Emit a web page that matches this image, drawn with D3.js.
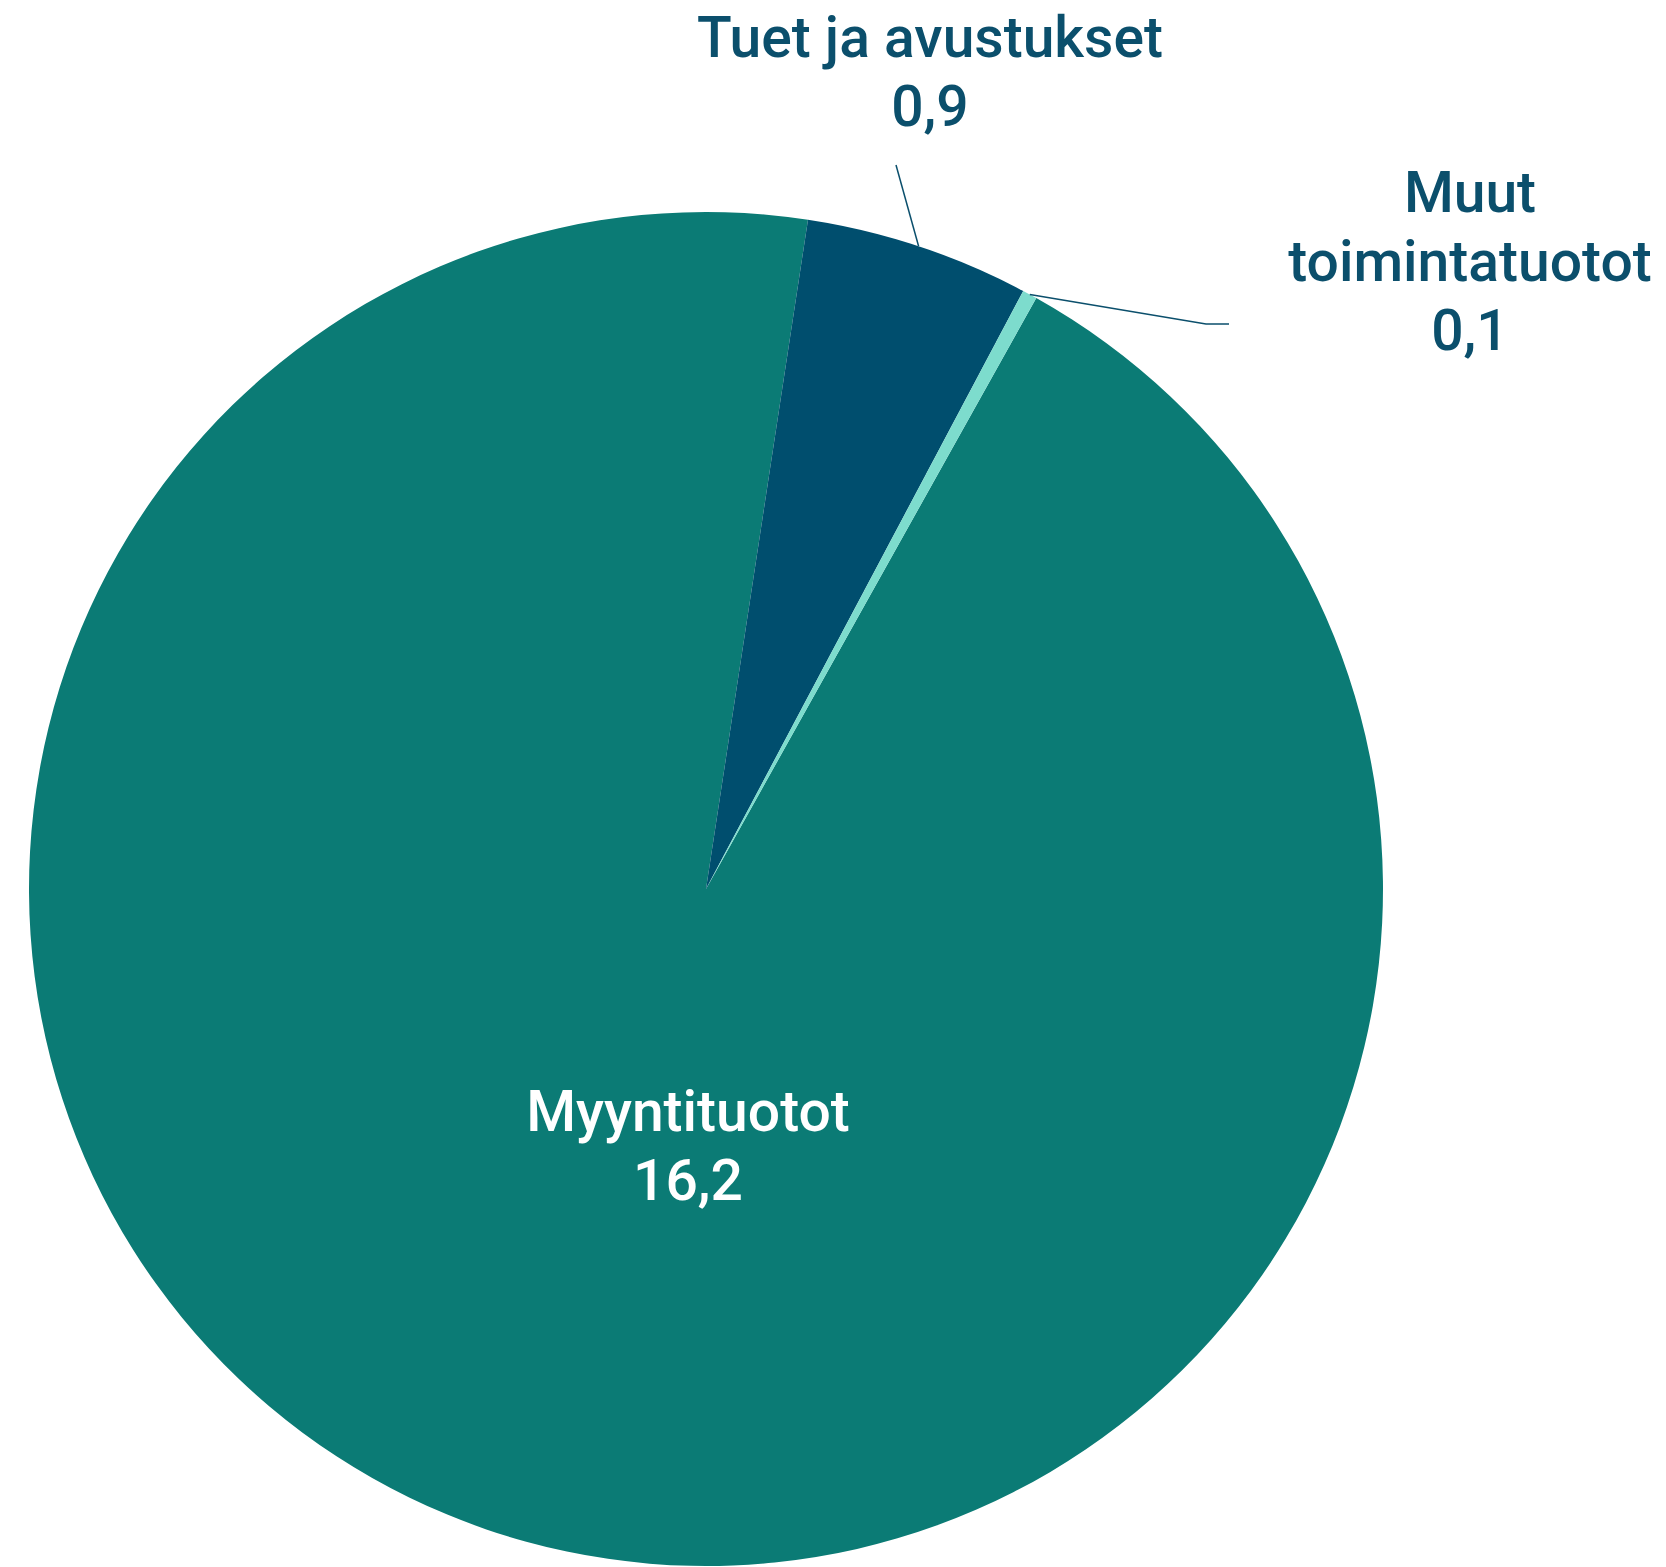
<!DOCTYPE html>
<html>
<head>
<meta charset="utf-8">
<script src="https://cdn.jsdelivr.net/npm/d3@7"></script>
<style>
  body { margin: 0; background: #fff; }
  #chart text { font-family: Roboto, "Liberation Sans", sans-serif; font-weight: 500; }
</style>
</head>
<body>
<div id="chart"></div>
<script>
// data
var categories = ["Myyntituotot", "Tuet ja avustukset", "Muut toimintatuotot"];
var values = [16.2, 0.92, 0.06];
var colors = ["#0b7b75", "#004e6e", "#7ddccd"];

var width = 1666,
  height = 1567;
var cx = 706,
  cy = 889,
  radius = 677;
var firstSliceAngle = 29.2; // degrees, clockwise from 12 o'clock

var fi = d3.formatLocale({ decimal: ",", thousands: " ", grouping: [3], currency: ["", " €"] });
var fmt = fi.format(".1f");

var svg = d3
  .select("#chart")
  .append("svg")
  .attr("width", width)
  .attr("height", height);

var g = svg.append("g").attr("transform", "translate(" + cx + "," + cy + ")");

var rad = (firstSliceAngle * Math.PI) / 180;
var pie = d3
  .pie()
  .sort(null)
  .value(function (d) { return d.value; })
  .startAngle(rad)
  .endAngle(rad + 2 * Math.PI);

var data = categories.map(function (c, i) {
  return { name: c, value: values[i], color: colors[i] };
});
var arcs = pie(data);

var arc = d3.arc().innerRadius(0).outerRadius(radius);
var rim = d3.arc().innerRadius(radius).outerRadius(radius);

g.selectAll("path.slice")
  .data(arcs)
  .join("path")
  .attr("class", "slice")
  .attr("d", arc)
  .attr("fill", function (d) { return d.data.color; });

// label layout (svg coords): lines, anchor x, first baseline, colour, leader path end
var labelColor = "#0b4f6c";
var fontSize = 57;
var lineGap = 69;
var labelLayout = [
  { x: 688, y: 1131, lines: ["Myyntituotot"], fill: "#fff", leader: null },
  { x: 930, y: 57, lines: ["Tuet ja avustukset"], fill: labelColor, leader: [[896, 165]] },
  { x: 1470, y: 212, lines: ["Muut", "toimintatuotot"], fill: labelColor, leader: [[1206, 324], [1229, 324]] }
];

arcs.forEach(function (a, i) {
  var L = labelLayout[i];
  if (L.leader) {
    var p = rim.centroid(a);
    var pts = [[p[0] + cx, p[1] + cy]].concat(L.leader);
    svg.append("path")
      .attr("d", d3.line()(pts))
      .attr("fill", "none")
      .attr("stroke", labelColor)
      .attr("stroke-width", 1.5);
  }
  var t = svg.append("text")
    .attr("text-anchor", "middle")
    .attr("fill", L.fill)
    .attr("font-size", fontSize);
  L.lines.concat([fmt(a.data.value)]).forEach(function (s, k) {
    t.append("tspan")
      .attr("x", L.x)
      .attr("y", L.y + k * lineGap)
      .text(s);
  });
});
</script>
</body>
</html>
